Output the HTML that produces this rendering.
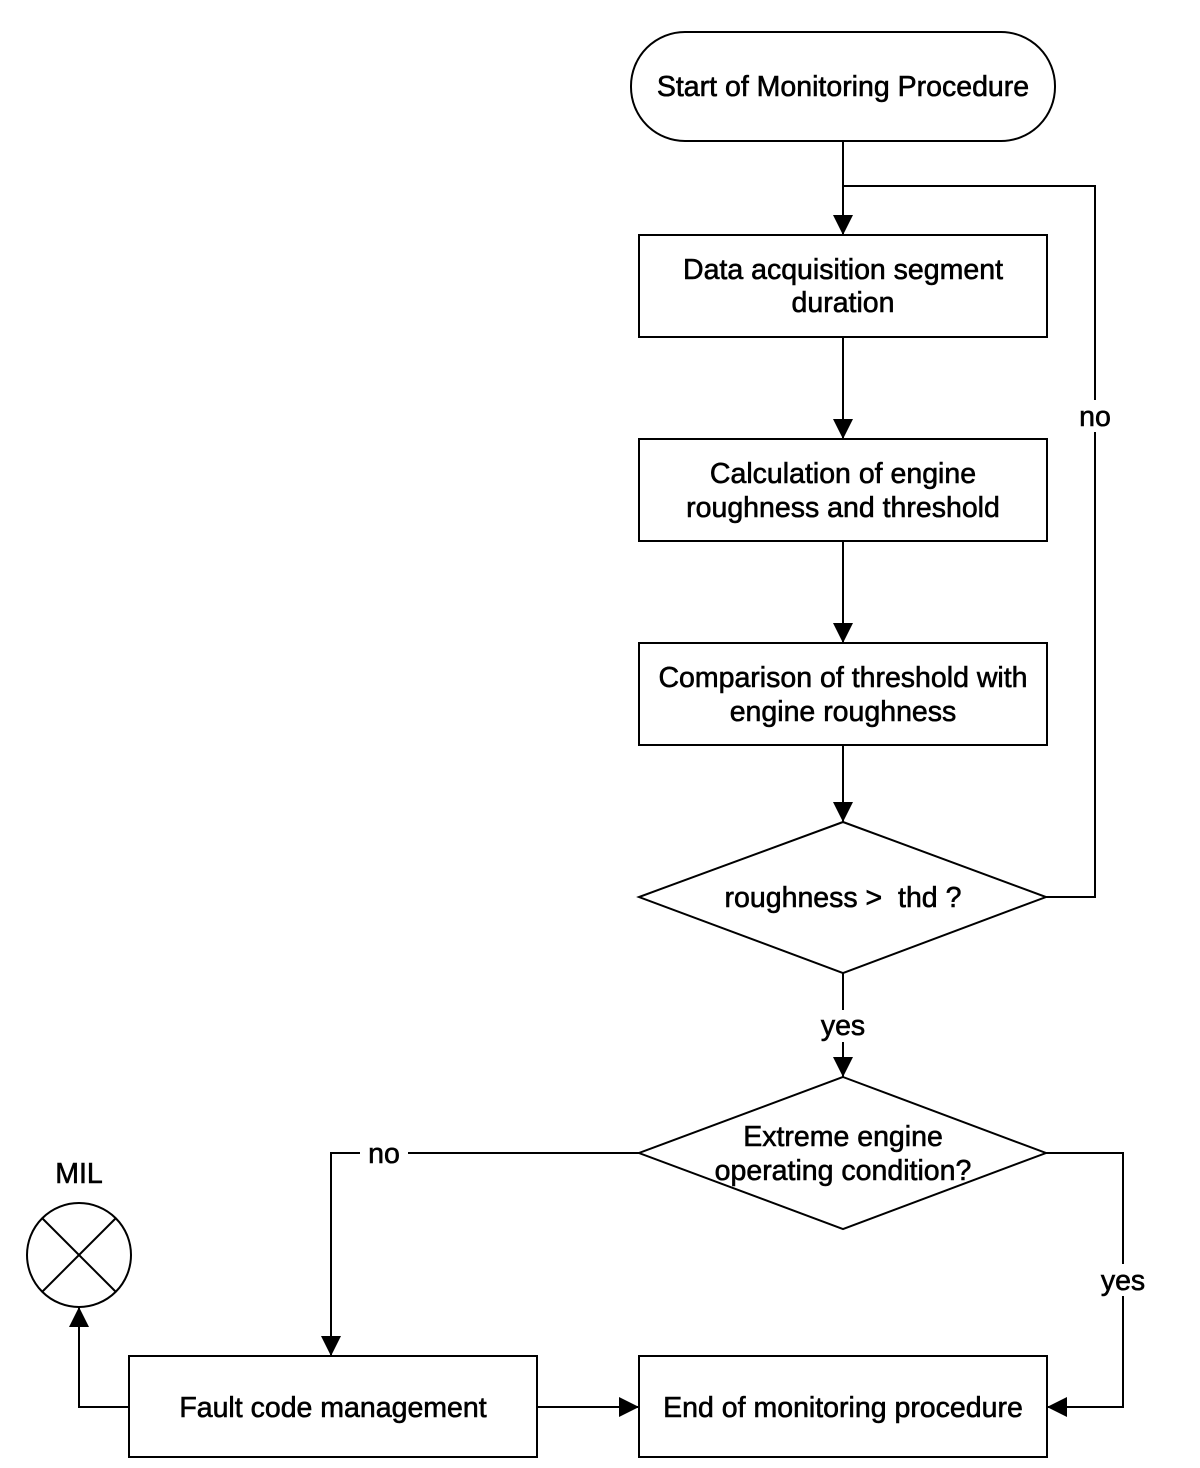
<!DOCTYPE html>
<html><head><meta charset="utf-8"><style>html,body{margin:0;padding:0;background:#fff}svg{display:block}text{font-family:"Liberation Sans",Arial,sans-serif;font-size:28.5px;fill:#000;stroke:#000;stroke-width:0.6}</style></head><body>
<svg width="1200" height="1468" viewBox="0 0 1200 1468" xmlns="http://www.w3.org/2000/svg">
<defs><marker id="b" markerWidth="20" markerHeight="20" refX="20" refY="10" orient="auto" markerUnits="userSpaceOnUse" viewBox="0 0 20 20"><path d="M0,0 L20,10 L0,20 z" fill="#000"/></marker></defs>
<g fill="none" stroke="#000" stroke-width="2">
<rect x="631" y="32" width="424" height="109" rx="54" fill="#fff"/>
<rect x="639" y="235" width="408" height="102"/>
<rect x="639" y="439" width="408" height="102"/>
<rect x="639" y="643" width="408" height="102"/>
<polygon points="843,822 1046,897 843,973 639,897"/>
<polygon points="843,1077 1046,1153 843,1229 639,1153"/>
<rect x="129" y="1356" width="408" height="101"/>
<rect x="639" y="1356" width="408" height="101"/>
<circle cx="79" cy="1255" r="52"/>
<line x1="42" y1="1218" x2="116" y2="1292"/><line x1="116" y1="1218" x2="42" y2="1292"/>
<path d="M843,141 V235" marker-end="url(#b)"/>
<path d="M843,186 H1095 V897 H1046"/>
<path d="M843,337 V439" marker-end="url(#b)"/>
<path d="M843,541 V643" marker-end="url(#b)"/>
<path d="M843,745 V822" marker-end="url(#b)"/>
<path d="M843,973 V1077" marker-end="url(#b)"/>
<path d="M639,1153 H331 V1356" marker-end="url(#b)"/>
<path d="M1046,1153 H1123 V1407 H1047" marker-end="url(#b)"/>
<path d="M537,1407 H639" marker-end="url(#b)"/>
<path d="M129,1407 H79 V1307" marker-end="url(#b)"/>
</g>
<rect x="1073" y="400" width="44" height="32" fill="#fff"/>
<rect x="815" y="1010" width="56" height="32" fill="#fff"/>
<rect x="360" y="1138" width="48" height="32" fill="#fff"/>
<rect x="1095" y="1264" width="56" height="32" fill="#fff"/>
<g text-anchor="middle">
<text x="843" y="96">Start of Monitoring Procedure</text>
<text x="843" y="279">Data acquisition segment</text>
<text x="843" y="312">duration</text>
<text x="843" y="483">Calculation of engine</text>
<text x="843" y="517">roughness and threshold</text>
<text x="843" y="687">Comparison of threshold with</text>
<text x="843" y="721">engine roughness</text>
<text x="843" y="907">roughness &gt;&#160;&#160;thd ?</text>
<text x="843" y="1146">Extreme engine</text>
<text x="843" y="1180">operating condition?</text>
<text x="333" y="1417">Fault code management</text>
<text x="843" y="1417">End of monitoring procedure</text>
<text x="1095" y="426">no</text>
<text x="843" y="1035">yes</text>
<text x="384" y="1163">no</text>
<text x="1123" y="1290">yes</text>
<text x="79" y="1183">MIL</text>
</g>
</svg>
</body></html>
